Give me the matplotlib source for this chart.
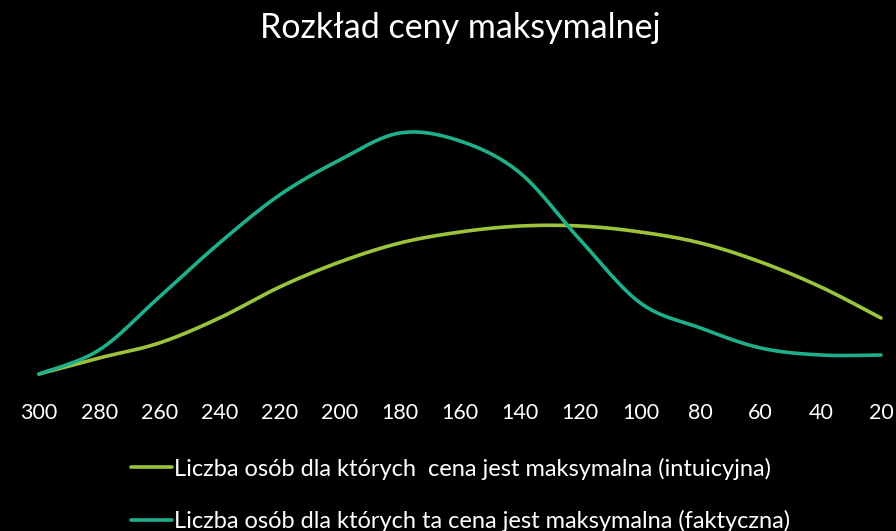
import numpy as np
import matplotlib
matplotlib.use("Agg")
import matplotlib.pyplot as plt

# Data
prices = [300, 280, 260, 240, 220, 200, 180, 160, 140, 120, 100, 80, 60, 40, 20]
intuicyjna = [0, 16, 31, 56, 87, 112, 131, 142, 148, 148, 142, 131, 112, 87, 56]
faktyczna = [0, 24, 77, 131, 179, 214, 241, 233, 201, 134, 71, 46, 26, 19, 19]

label_a = "Liczba osób dla których  cena jest maksymalna (intuicyjna)"
label_b = "Liczba osób dla których ta cena jest maksymalna (faktyczna)"
title = "Rozkład ceny maksymalnej"

green = "#9BC43C"
teal = "#1FAF8B"
text_col = "#FFFFFF"


def smooth(x, y, n=30):
    # Catmull-Rom style smoothing, like Excel's "smoothed line"
    x = np.asarray(x, float)
    y = np.asarray(y, float)
    px = np.concatenate([[x[0]], x, [x[-1]]])
    py = np.concatenate([[y[0]], y, [y[-1]]])
    xs, ys = [], []
    for i in range(1, len(px) - 2):
        t = np.linspace(0, 1, n, endpoint=False)
        p0, p1, p2, p3 = (np.array([px[j], py[j]]) for j in (i - 1, i, i + 1, i + 2))
        c1 = p1 + (p2 - p0) / 6
        c2 = p2 - (p3 - p1) / 6
        b = ((1 - t) ** 3)[:, None] * p1 + (3 * (1 - t) ** 2 * t)[:, None] * c1 \
            + (3 * (1 - t) * t ** 2)[:, None] * c2 + (t ** 3)[:, None] * p2
        xs.append(b[:, 0])
        ys.append(b[:, 1])
    xs.append([x[-1]])
    ys.append([y[-1]])
    return np.concatenate(xs), np.concatenate(ys)


plt.rcParams['font.family'] = ['Lato', 'DejaVu Sans']

fig = plt.figure(figsize=(8.96, 5.31), dpi=100, facecolor="black")
W, H = 896, 531
left, right, bottom, top = 39, 881, 374, 74
ax = fig.add_axes([left / W, 1 - bottom / H, (right - left) / W, (bottom - top) / H])
ax.set_facecolor("black")

idx = np.arange(len(prices))
sx, sy = smooth(idx, intuicyjna)
ax.plot(sx, sy, color=green, lw=2.6, clip_on=False, solid_capstyle="round", label=label_a)
sx, sy = smooth(idx, faktyczna)
ax.plot(sx, sy, color=teal, lw=2.6, clip_on=False, solid_capstyle="round", label=label_b)

ax.set_xlim(0, len(prices) - 1)
ax.set_ylim(0, 300)
ax.set_xticks(idx)
ax.set_xticklabels([str(p) for p in prices], color=text_col, fontsize=15.5)
ax.tick_params(axis="x", length=0, pad=21)
ax.set_yticks([])
for s in ax.spines.values():
    s.set_visible(False)

fig.text(460 / W, 1 - 28 / H, title, ha="center", va="center", color=text_col, fontsize=24.5)

leg = fig.legend(loc="upper left", bbox_to_anchor=(122 / W, 1 - 448 / H), ncol=1,
                 frameon=False, fontsize=17, handlelength=1.7, handletextpad=0.1,
                 labelspacing=1.3, borderaxespad=0)
for t in leg.get_texts():
    t.set_color(text_col)

fig.savefig("out.png", dpi=100, facecolor="black")
